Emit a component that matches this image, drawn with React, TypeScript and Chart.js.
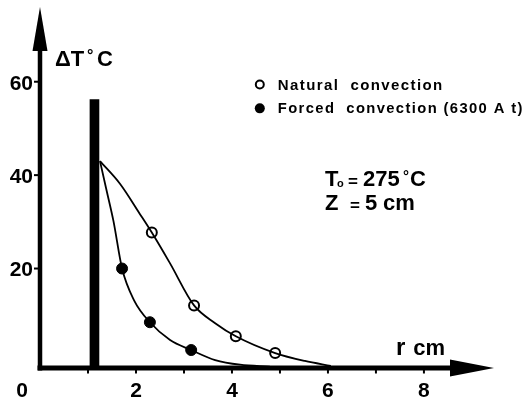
import React, { useEffect, useRef } from 'react';
import { Chart, registerables } from 'chart.js';

Chart.register(...registerables);

// Measured points
const naturalR = [2.33, 3.21, 4.08, 4.9];
const naturalT = [27.7, 12.1, 5.5, 1.9];
const forcedR = [1.71, 2.29, 3.15];
const forcedT = [20.0, 8.5, 2.55];

// Smooth curves
const naturalCurveR = [1.25, 1.67, 2.08, 2.33, 2.71, 3.21, 3.65, 4.08, 4.9, 5.52, 6.06];
const naturalCurveT = [43.0, 38.1, 31.7, 27.7, 21.1, 12.1, 8.3, 5.5, 1.9, 0.2, -0.85];
const forcedCurveR = [1.25, 1.39, 1.53, 1.71, 1.96, 2.29, 2.71, 3.15, 3.65, 4.17, 4.79];
const forcedCurveT = [43.0, 36.6, 30.2, 20.0, 13.2, 8.5, 4.7, 2.55, 0.4, -0.6, -1.0];

// Heater rod
const heaterR = [1.135];
const heaterT = [56.2];

const xTickValues = [0, 2, 4, 6, 8];
const xTickLabels = ['0', '2', '4', '6', '8'];
const xMinorTicks = [1, 2, 3, 4, 5, 6, 7, 8];
const yTickValues = [20, 40, 60];
const yTickLabels = ['20', '40', '60'];
const seriesNames = ['Natural  convection', 'Forced  convection (6300 A t)'];

const Y_MIN = -1.3;
const Y_MAX = 76;
const X_MIN = 0;
const X_MAX = 9.46;

const FONT = '"Liberation Sans", Arial, sans-serif';

const decorPlugin = {
  id: 'decor',
  beforeDatasetsDraw(chart: any) {
    const { ctx, scales } = chart;
    const x = scales.x;
    const y = scales.y;
    const x0 = x.getPixelForValue(0);
    const yb = y.getPixelForValue(Y_MIN);
    const xr = x.getPixelForValue(X_MAX);
    const yt = y.getPixelForValue(Y_MAX);
    ctx.save();
    ctx.strokeStyle = '#000';
    ctx.fillStyle = '#000';
    ctx.lineCap = 'butt';
    // x axis
    ctx.lineWidth = 5;
    ctx.beginPath();
    ctx.moveTo(x0 - 2.5, yb);
    ctx.lineTo(xr - 40, yb);
    ctx.stroke();
    // y axis
    ctx.lineWidth = 4.5;
    ctx.beginPath();
    ctx.moveTo(x0, yb + 2.5);
    ctx.lineTo(x0, yt + 40);
    ctx.stroke();
    // arrows
    ctx.beginPath();
    ctx.moveTo(xr, yb);
    ctx.lineTo(xr - 44, yb - 8.5);
    ctx.lineTo(xr - 44, yb + 8.5);
    ctx.closePath();
    ctx.fill();
    ctx.beginPath();
    ctx.moveTo(x0, yt);
    ctx.lineTo(x0 - 7.5, yt + 44);
    ctx.lineTo(x0 + 7.5, yt + 44);
    ctx.closePath();
    ctx.fill();
    // ticks
    ctx.lineWidth = 2;
    xMinorTicks.forEach((v) => {
      const px = x.getPixelForValue(v);
      ctx.beginPath();
      ctx.moveTo(px, yb);
      ctx.lineTo(px, yb + 5.5);
      ctx.stroke();
    });
    yTickValues.forEach((v) => {
      const py = y.getPixelForValue(v);
      ctx.beginPath();
      ctx.moveTo(x0 - 6, py);
      ctx.lineTo(x0, py);
      ctx.stroke();
    });
    ctx.restore();
  },
  afterDraw(chart: any) {
    const { ctx, scales } = chart;
    const x = scales.x;
    const y = scales.y;
    const x0 = x.getPixelForValue(0);
    const yb = y.getPixelForValue(Y_MIN);
    ctx.save();
    ctx.fillStyle = '#000';
    ctx.strokeStyle = '#000';
    // tick labels
    ctx.font = `bold 21px ${FONT}`;
    ctx.textBaseline = 'middle';
    ctx.textAlign = 'center';
    xTickValues.forEach((v, i) => {
      let px = x.getPixelForValue(v);
      if (v === 0) px -= 18;
      ctx.fillText(xTickLabels[i], px, yb + 23);
    });
    ctx.textAlign = 'right';
    yTickValues.forEach((v, i) => {
      ctx.fillText(yTickLabels[i], x0 - 7, y.getPixelForValue(v) + 2);
    });
    // axis titles
    ctx.textAlign = 'left';
    const tx = x.getPixelForValue(0.31);
    const ty = y.getPixelForValue(64.7);
    ctx.font = `bold 22px ${FONT}`;
    ctx.fillText('\u0394T', tx, ty);
    ctx.font = `bold 16px ${FONT}`;
    ctx.fillText('\u00B0', tx + 32, ty - 3);
    ctx.font = `bold 22px ${FONT}`;
    ctx.fillText('C', tx + 42, ty);
    ctx.textBaseline = 'alphabetic';
    ctx.font = `bold 24px ${FONT}`;
    ctx.fillText('r', x.getPixelForValue(7.42), y.getPixelForValue(1.5));
    ctx.font = `bold 22px ${FONT}`;
    ctx.fillText('cm', x.getPixelForValue(7.78), y.getPixelForValue(1.5));

    // legend
    const lx = x.getPixelForValue(4.58);
    const ly1 = y.getPixelForValue(59.4);
    const ly2 = y.getPixelForValue(54.3);
    ctx.lineWidth = 2;
    ctx.beginPath();
    ctx.arc(lx, ly1, 4, 0, Math.PI * 2);
    ctx.fillStyle = '#fff';
    ctx.fill();
    ctx.stroke();
    ctx.fillStyle = '#000';
    ctx.beginPath();
    ctx.arc(lx, ly2, 5, 0, Math.PI * 2);
    ctx.fill();
    ctx.font = `bold 15px ${FONT}`;
    ctx.textBaseline = 'middle';
    (ctx as any).letterSpacing = '1.4px';
    ctx.fillText(seriesNames[0], lx + 18, ly1 + 1);
    ctx.fillText(seriesNames[1], lx + 18, ly2 + 1, 246);
    (ctx as any).letterSpacing = '0px';

    // annotation
    const ax = x.getPixelForValue(5.94);
    const ay1 = y.getPixelForValue(38.9);
    const ay2 = y.getPixelForValue(33.8);
    ctx.textBaseline = 'middle';
    ctx.font = `bold 22px ${FONT}`;
    ctx.fillText('T', ax, ay1);
    ctx.font = `bold 11px ${FONT}`;
    ctx.fillText('o', ax + 12, ay1 + 4);
    ctx.font = `bold 17px ${FONT}`;
    ctx.fillText('=', ax + 23, ay1 + 2);
    ctx.font = `bold 22px ${FONT}`;
    ctx.fillText('275', ax + 38, ay1);
    ctx.font = `bold 15px ${FONT}`;
    ctx.fillText('\u00B0', ax + 78, ay1 - 3);
    ctx.font = `bold 22px ${FONT}`;
    ctx.fillText('C', ax + 85, ay1);
    ctx.fillText('Z', ax, ay2);
    ctx.font = `bold 17px ${FONT}`;
    ctx.fillText('=', ax + 25, ay2 + 2);
    ctx.font = `bold 22px ${FONT}`;
    ctx.fillText('5', ax + 40, ay2);
    ctx.fillText('cm', ax + 58, ay2);
    ctx.restore();
  },
};

export default function App() {
  const ref = useRef<HTMLCanvasElement | null>(null);
  useEffect(() => {
    if (!ref.current) return;
    const toXY = (xs: number[], ys: number[]) => xs.map((v, i) => ({ x: v, y: ys[i] }));
    const chart = new Chart(ref.current, {
      type: 'line',
      data: {
        datasets: [
          {
            type: 'bar',
            data: toXY(heaterR, heaterT) as any,
            backgroundColor: '#000',
            borderWidth: 0,
            barThickness: 9,
            grouped: false,
            base: Y_MIN,
          } as any,
          {
            type: 'line',
            data: toXY(naturalCurveR, naturalCurveT),
            borderColor: '#000',
            borderWidth: 1.8,
            pointRadius: 0,
            cubicInterpolationMode: 'monotone',
            fill: false,
          },
          {
            type: 'line',
            data: toXY(forcedCurveR, forcedCurveT),
            borderColor: '#000',
            borderWidth: 1.8,
            pointRadius: 0,
            cubicInterpolationMode: 'monotone',
            fill: false,
          },
          {
            type: 'line',
            label: seriesNames[0],
            data: toXY(naturalR, naturalT),
            showLine: false,
            pointRadius: 5,
            pointBorderWidth: 2,
            pointBackgroundColor: '#fff',
            pointBorderColor: '#000',
          },
          {
            type: 'line',
            label: seriesNames[1],
            data: toXY(forcedR, forcedT),
            showLine: false,
            pointRadius: 5.5,
            pointBorderWidth: 1,
            pointBackgroundColor: '#000',
            pointBorderColor: '#000',
          },
        ],
      },
      options: {
        responsive: false,
        animation: false,
        layout: { padding: { left: 40, right: 34, top: 5, bottom: 39 } },
        plugins: { legend: { display: false }, tooltip: { enabled: false } },
        scales: {
          x: { type: 'linear', min: X_MIN, max: X_MAX, display: false, offset: false },
          y: { type: 'linear', min: Y_MIN, max: Y_MAX, display: false },
        },
      },
      plugins: [decorPlugin],
    });
    return () => chart.destroy();
  }, []);
  return (
    <div style={{ position: 'absolute', left: 0, top: 0, width: 528, height: 407, background: '#fff' }}>
      <canvas ref={ref} width={528} height={407} style={{ width: 528, height: 407, display: 'block' }} />
    </div>
  );
}
